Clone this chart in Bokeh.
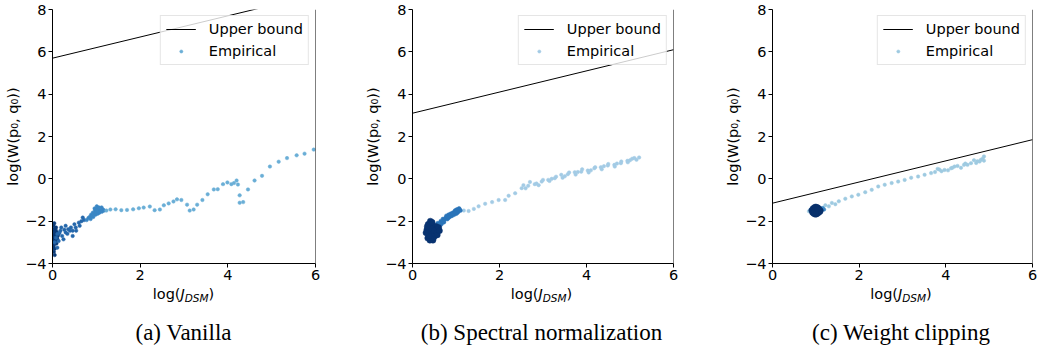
from bokeh.plotting import figure
from bokeh.models import Range1d, FixedTicker, Legend, LegendItem, Span, Div
from bokeh.layouts import row, column
from bokeh.embed import file_html
from bokeh.resources import INLINE

# ---------------- data ----------------
x_ticks = [0, 2, 4, 6]
y_ticks = [-4, -2, 0, 2, 4, 6, 8]
y_tick_labels = {-4: "\u22124", -2: "\u22122"}
captions = ["(a) Vanilla", "(b) Spectral normalization", "(c) Weight clipping"]
legend_labels = ["Upper bound", "Empirical"]
y_label_text = "log(W(p\u2080, q\u2080))"
x_label_html = "log(<i>J</i><span style='font-size:10.5px;font-style:italic;position:relative;top:3px;'>DSM</span>)"

bound_x = [0, 6]
bound_a = [5.7, 8.7]
bound_b = [3.1, 6.1]
bound_c = [-1.15, 1.85]

# Panel (a) Vanilla
a_dark_x = [0.02, 0.05, 0.03, 0.08, 0.01, 0.06, 0.10, 0.04, 0.02, 0.07, 0.12, 0.03, 0.05, 0.09, 0.01,
            0.04, 0.06, 0.02, 0.08, 0.03, 0.11, 0.05, 0.02, 0.07, 0.04, 0.14, 0.01, 0.06, 0.03, 0.09]
a_dark_y = [-2.2, -2.35, -2.5, -2.45, -2.65, -2.7, -2.55, -2.85, -3.0, -2.9, -2.7, -3.15, -3.3, -3.05, -2.4,
            -2.6, -2.95, -2.75, -2.3, -3.45, -2.85, -3.6, -3.25, -2.6, -2.1, -2.6, -2.9, -2.5, -2.55, -2.8]
a_mid_x = [0.18, 0.30, 0.42, 0.53, 0.60, 0.69, 0.66, 0.46, 0.34, 0.22, 0.14, 0.11, 0.08, 0.30, 0.40,
           0.54, 0.62, 0.20, 0.25, 0.11, 0.05, 0.46, 0.50, 0.72, 0.36, 0.16, 0.27]
a_mid_y = [-2.45, -2.53, -2.3, -2.3, -2.07, -1.83, -2.0, -2.45, -2.6, -2.7, -2.94, -3.25, -2.78, -2.22, -2.45,
           -2.45, -2.22, -2.3, -2.86, -2.61, -3.0, -2.7, -2.15, -1.95, -2.38, -2.55, -2.4]
a_clu_x = [0.78, 0.82, 0.85, 0.88, 0.90, 0.92, 0.95, 0.97, 1.00, 1.02, 1.05, 1.07, 1.10, 1.12, 1.15,
           0.93, 0.98, 1.03, 1.08, 0.87, 0.96, 1.01, 1.06, 1.13, 1.18]
a_clu_y = [-1.95, -1.85, -1.8, -1.7, -1.75, -1.6, -1.65, -1.5, -1.55, -1.4, -1.45, -1.6, -1.5, -1.35, -1.45,
           -1.8, -1.7, -1.65, -1.55, -1.9, -1.4, -1.3, -1.35, -1.55, -1.5]
a_light_x = [5.96, 5.75, 5.57, 5.35, 5.16, 4.96, 4.78, 4.61, 4.46, 4.35, 4.27, 4.27, 4.23, 4.20, 4.14,
             4.08, 3.99, 3.89, 3.77, 3.68, 3.54, 3.42, 3.30, 3.22, 3.13, 3.07, 2.94, 2.84, 2.76, 2.65,
             2.54, 2.45, 2.33, 2.22, 2.08, 1.97, 1.84, 1.70, 1.57, 1.44, 1.32, 1.23]
a_light_y = [1.38, 1.19, 1.11, 0.98, 0.81, 0.58, 0.14, -0.08, -0.50, -1.10, -1.13, -0.78, -0.27, -0.08, -0.2,
             -0.25, -0.17, -0.25, -0.49, -0.5, -0.73, -1.0, -1.22, -1.45, -1.5, -1.22, -1.0, -0.97, -1.07, -1.16,
             -1.25, -1.45, -1.48, -1.31, -1.36, -1.39, -1.44, -1.47, -1.48, -1.44, -1.45, -1.5]

# Panel (b) Spectral normalization
b_dark_x = [0.33, 0.36, 0.38, 0.40, 0.42, 0.44, 0.46, 0.48, 0.50, 0.52, 0.55, 0.58, 0.35, 0.39, 0.43, 0.47,
            0.51, 0.54, 0.37, 0.41, 0.45, 0.49, 0.53, 0.40, 0.44, 0.48, 0.36, 0.42, 0.46, 0.50, 0.56, 0.60,
            0.38, 0.45, 0.31, 0.34, 0.57, 0.62]
b_dark_y = [-2.4, -2.6, -2.3, -2.75, -2.5, -2.85, -2.4, -2.65, -2.3, -2.55, -2.45, -2.35, -2.8, -2.2, -2.65, -2.9,
            -2.7, -2.25, -2.5, -2.0, -2.15, -2.45, -2.6, -2.9, -2.35, -2.8, -2.15, -2.8, -2.6, -2.45, -2.55, -2.3,
            -2.7, -2.05, -2.55, -2.25, -2.65, -2.45]
b_mid_x = [0.55, 0.58, 0.62, 0.65, 0.68, 0.70, 0.73, 0.76, 0.78, 0.80, 0.83, 0.85, 0.88, 0.90, 0.93, 0.95,
           0.98, 1.00, 1.02, 1.05, 1.07, 1.10, 0.60, 0.66, 0.72, 0.82, 0.92, 0.97, 1.03, 1.08]
b_mid_y = [-2.2, -2.1, -2.25, -2.0, -2.05, -1.9, -1.95, -1.85, -1.75, -1.9, -1.7, -1.8, -1.65, -1.75, -1.6, -1.7,
           -1.5, -1.65, -1.45, -1.55, -1.4, -1.5, -2.35, -2.15, -2.05, -1.85, -1.65, -1.58, -1.6, -1.45]
b_light_x = [5.21, 5.10, 4.94, 4.79, 4.64, 4.49, 4.33, 4.18, 4.03, 3.88, 3.73, 3.57, 3.42, 3.27, 3.12, 2.97,
             2.81, 2.66, 2.51, 2.36, 2.21, 2.13, 1.98, 1.83, 1.67, 1.52, 1.41, 1.29, 1.18,
             2.55, 2.70, 2.85, 3.00, 3.15, 3.30, 3.45, 3.60, 3.75, 3.90, 4.05, 4.20, 4.35, 4.50, 4.65, 4.80,
             4.95, 5.05, 5.15, 2.60, 2.90, 3.20, 3.50, 3.80, 4.10, 4.40, 4.70, 5.00]
b_light_y = [1.01, 0.98, 0.85, 0.74, 0.66, 0.63, 0.55, 0.50, 0.39, 0.34, 0.31, 0.22, 0.19, 0.03, -0.05, -0.13,
             -0.25, -0.33, -0.44, -0.68, -0.80, -1.0, -1.0, -1.1, -1.18, -1.3, -1.42, -1.52, -1.5,
             -0.3, -0.15, -0.22, -0.05, -0.1, 0.1, 0.05, 0.3, 0.2, 0.45, 0.3, 0.55, 0.45, 0.7, 0.58, 0.82,
             0.78, 0.95, 0.9, -0.45, -0.3, 0.0, 0.12, 0.32, 0.4, 0.6, 0.72, 0.88]

# Panel (c) Weight clipping
c_dark_x = [0.90, 0.93, 0.96, 0.99, 1.02, 1.05, 1.08, 1.11, 0.92, 0.95, 0.98, 1.01, 1.04, 1.07, 1.10, 0.94,
            0.97, 1.00, 1.03, 1.06, 0.96, 1.00, 1.04]
c_dark_y = [-1.5, -1.4, -1.35, -1.32, -1.33, -1.36, -1.42, -1.5, -1.6, -1.65, -1.68, -1.68, -1.65, -1.6, -1.55, -1.5,
            -1.48, -1.5, -1.52, -1.5, -1.58, -1.6, -1.42]
c_mid_x = [1.13, 1.16, 1.19, 0.88]
c_mid_y = [-1.42, -1.38, -1.45, -1.45]
c_light_x = [4.88, 4.81, 4.73, 4.58, 4.42, 4.27, 4.12, 3.97, 3.81, 3.66, 3.51, 3.36, 3.20, 3.05, 2.90, 2.75,
             2.59, 2.44, 2.29, 2.14, 1.98, 1.83, 1.68, 1.53, 1.37, 1.22, 1.11, 0.84,
             4.85, 4.78, 4.65, 4.50, 4.35, 4.20, 4.05, 3.90, 3.75, 4.88, 4.70, 4.45, 4.15, 3.85, 1.30, 1.45]
c_light_y = [1.06, 0.90, 0.83, 0.74, 0.66, 0.61, 0.50, 0.42, 0.47, 0.27, 0.19, 0.11, 0.05, -0.05, -0.13, -0.20,
             -0.28, -0.36, -0.52, -0.63, -0.75, -0.83, -0.94, -1.06, -1.14, -1.25, -1.38, -1.53,
             0.95, 0.82, 0.88, 0.66, 0.52, 0.58, 0.40, 0.36, 0.32, 0.86, 0.75, 0.72, 0.52, 0.44, -1.3, -1.2]

# ---------------- drawing ----------------
FONT = "DejaVu Sans"
FS = "14.5px"
TOP, FRAME_H, BOTTOM = 9, 254, 23
MAIN_H = TOP + FRAME_H + BOTTOM
XLAB_H = 18
CAP_H = 48


def make_panel(width, bl, br, bound_y, groups, light_idx, caption):
    p = figure(width=width, height=MAIN_H, output_backend="svg", toolbar_location=None,
               x_range=Range1d(0, 6), y_range=Range1d(-4, 8),
               min_border_left=bl, min_border_right=br, min_border_top=TOP, min_border_bottom=BOTTOM)
    p.outline_line_color = None
    p.grid.visible = False
    for ax, ticks in ((p.xaxis[0], x_ticks), (p.yaxis[0], y_ticks)):
        ax.ticker = FixedTicker(ticks=ticks)
        ax.major_label_text_font = FONT
        ax.major_label_text_font_size = FS
        ax.major_label_text_color = "black"
        ax.axis_line_color = "black"
        ax.axis_line_width = 1
        ax.major_tick_line_color = "black"
        ax.major_tick_out = 4
        ax.major_tick_in = 0
        ax.minor_tick_line_color = None
        ax.major_label_standoff = 2
    p.yaxis[0].major_label_overrides = y_tick_labels
    p.yaxis[0].axis_label = y_label_text
    p.yaxis[0].axis_label_text_font = FONT
    p.yaxis[0].axis_label_text_font_size = FS
    p.yaxis[0].axis_label_text_font_style = "normal"
    p.yaxis[0].axis_label_text_color = "black"
    p.yaxis[0].axis_label_standoff = 1
    p.add_layout(Span(location=6, dimension="height", line_color="black", line_width=1))

    rends = []
    for xs, ys, col, sz in groups:
        r = p.scatter(xs, ys, size=sz, fill_color=col, line_color=col, line_width=0.5)
        rends.append(r)
    line_r = p.line(bound_x, bound_y, line_color="black", line_width=1)

    legend = Legend(items=[LegendItem(label=legend_labels[0], renderers=[line_r]),
                           LegendItem(label=legend_labels[1], renderers=[rends[light_idx]])],
                    location="top_right")
    legend.margin = 6
    legend.padding = 5
    legend.spacing = 6
    legend.label_height = 16
    legend.glyph_height = 8
    legend.glyph_width = 30
    legend.label_standoff = 13
    legend.label_text_font = FONT
    legend.label_text_font_size = FS
    legend.label_text_color = "black"
    legend.border_line_color = "#cccccc"
    legend.background_fill_alpha = 0.8
    p.add_layout(legend)

    fw = width - bl - br
    xlab = Div(text=x_label_html, width=fw, height=XLAB_H, margin=(0, 0, 0, bl),
               styles={"font-family": FONT, "font-size": FS, "line-height": "16px",
                       "text-align": "center", "color": "black", "white-space": "nowrap"})
    cap = Div(text=caption, width=fw, height=CAP_H, margin=(0, 0, 0, bl),
              styles={"font-family": "Liberation Serif", "font-size": "23px", "line-height": "26px",
                      "padding-top": "16px", "text-align": "center", "color": "black",
                      "white-space": "nowrap", "box-sizing": "border-box"})
    return column(p, xlab, cap)


pa = make_panel(362, 52, 47, bound_a,
                [(a_dark_x, a_dark_y, "#0b3b78", 3.5),
                 (a_mid_x, a_mid_y, "#2467ab", 3.5),
                 (a_clu_x, a_clu_y, "#3a86c4", 3.5),
                 (a_light_x, a_light_y, "#6aaed6", 3.5)], 3, captions[0])
pb = make_panel(360, 48, 49, bound_b,
                [(b_light_x, b_light_y, "#a3cbe5", 3.5),
                 (b_mid_x, b_mid_y, "#2a74b9", 4),
                 (b_dark_x, b_dark_y, "#083370", 6)], 0, captions[1])
pc = make_panel(317, 48, 7, bound_c,
                [(c_light_x, c_light_y, "#9ecae1", 3.5),
                 (c_mid_x, c_mid_y, "#3a86c4", 3.5),
                 (c_dark_x, c_dark_y, "#08306b", 5.5)], 0, captions[2])

layout = row(pa, pb, pc)
open("out.html", "w").write(file_html(layout, INLINE))
